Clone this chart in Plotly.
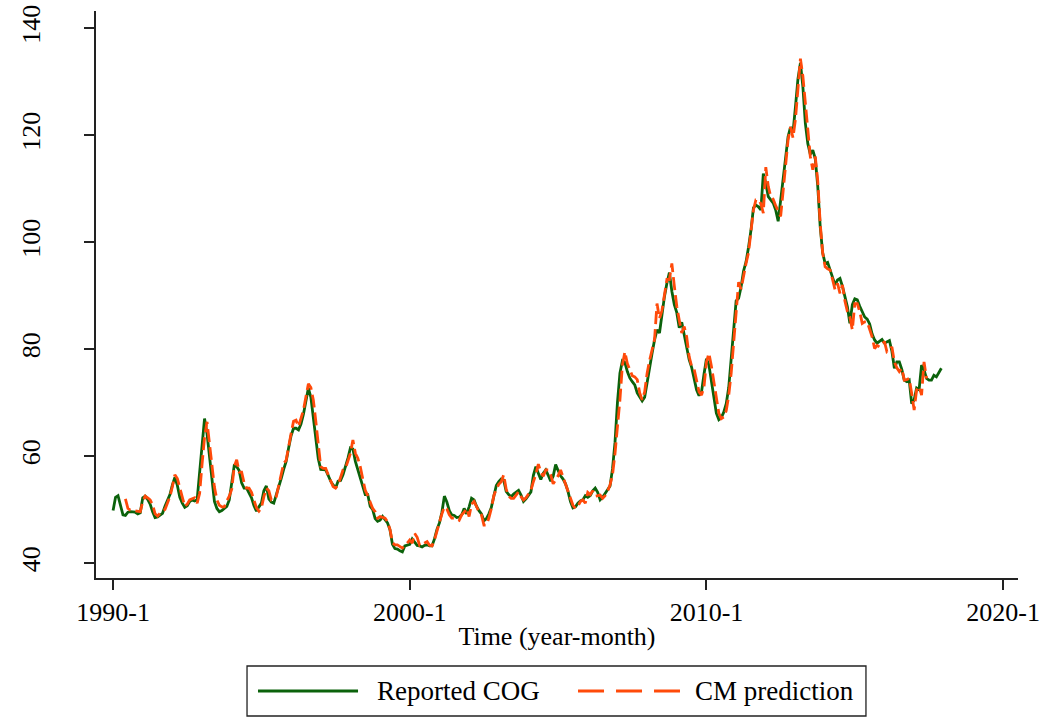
import plotly.graph_objects as go

# Monthly series, first month of the sample is 1990-1
reported_cog = [
    49.8, 52.3, 52.6, 50.5, 49.0, 48.9, 49.5, 49.6, 49.6, 49.5, 49.2, 49.4,   # 1990
    52.2, 52.5, 51.9, 51.0, 49.6, 48.5, 48.6, 49.0, 49.3, 50.6, 51.8, 52.8,   # 1991
    54.6, 56.0, 54.5, 52.3, 51.2, 50.4, 50.7, 51.5, 51.8, 51.6, 51.8, 57.0,   # 1992
    63.0, 67.0, 64.2, 59.5, 55.0, 51.5, 50.2, 49.6, 49.8, 50.2, 50.6, 51.8,   # 1993
    55.0, 58.2, 58.0, 57.3, 55.0, 54.0, 54.0, 53.0, 52.2, 50.7, 49.7, 50.5,   # 1994
    51.2, 53.5, 54.4, 52.0, 51.4, 51.2, 52.6, 54.0, 55.8, 57.5, 59.0, 61.5,   # 1995
    63.8, 65.2, 65.2, 64.9, 66.0, 67.8, 70.5, 72.7, 71.0, 67.3, 63.8, 59.5,   # 1996
    57.5, 57.5, 57.4, 56.4, 55.3, 54.6, 54.0, 55.3, 55.4, 56.5, 58.0, 59.6,   # 1997
    61.5, 61.3, 59.0, 57.4, 55.8, 54.2, 52.8, 52.8, 50.6, 50.0, 48.3, 47.8,   # 1998
    48.0, 48.7, 48.1, 47.5, 46.2, 43.5, 42.7, 42.6, 42.3, 42.1, 43.2, 43.4,   # 1999
    43.5, 44.5, 43.8, 43.3, 43.2, 43.0, 43.3, 43.4, 43.2, 43.2, 44.5, 46.3,   # 2000
    47.5, 49.5, 52.5, 51.4, 49.8, 49.0, 48.9, 48.5, 48.6, 49.0, 50.2, 49.2,   # 2001
    50.5, 52.1, 51.8, 50.6, 49.8, 49.2, 47.9, 48.3, 49.2, 50.4, 52.5, 54.5,   # 2002
    55.2, 55.7, 55.5, 53.4, 52.8, 52.4, 52.9, 53.3, 53.6, 52.7, 51.5, 52.0,   # 2003
    52.6, 53.3, 56.4, 58.0, 56.8, 55.6, 56.8, 57.4, 56.4, 55.3, 56.2, 58.4,   # 2004
    57.3, 56.3, 55.7, 54.8, 53.4, 51.5, 50.3, 50.5, 51.2, 51.6, 51.8, 52.6,   # 2005
    52.3, 52.6, 53.5, 54.0, 53.2, 51.8, 52.3, 53.0, 53.6, 54.4, 57.6, 62.5,   # 2006
    70.0, 75.5, 77.8, 77.5, 75.8, 74.6, 73.9, 73.3, 71.8, 71.0, 70.3, 71.0,   # 2007
    74.0, 77.0, 79.2, 81.7, 83.6, 83.0, 86.5, 89.8, 92.3, 94.3, 90.8, 88.3,   # 2008
    86.8, 84.0, 85.0, 82.5, 80.0, 78.0, 76.6, 74.2, 72.4, 71.3, 72.0, 75.3,   # 2009
    78.2, 77.0, 73.8, 70.6, 68.0, 66.8, 67.2, 68.2, 69.8, 72.8, 77.9, 84.0,   # 2010
    89.0, 89.5, 91.6, 94.6, 96.3, 99.0, 102.2, 106.4, 106.9, 106.6, 106.0, 112.8,  # 2011
    111.0, 108.5, 107.9, 107.3, 106.0, 103.9, 107.8, 111.5, 115.3, 119.7, 121.5, 120.5,  # 2012
    125.3, 130.5, 133.5, 129.0, 122.2, 118.4, 116.4, 117.2, 115.6, 110.5, 102.9, 98.0,  # 2013
    96.0, 96.2, 94.8, 93.5, 92.0, 92.9, 93.2, 91.7, 89.8, 87.9, 84.8, 88.3,   # 2014
    89.4, 89.2, 88.0, 87.0, 86.0, 85.6, 84.7, 82.8, 81.7, 81.1, 81.4, 81.8,   # 2015
    81.1, 81.3, 81.6, 79.6, 76.4, 77.6, 77.6, 76.2, 74.2, 73.9, 74.2, 69.8,   # 2016
    70.5, 72.7, 72.4, 77.0, 76.1, 74.5, 74.2, 74.2, 75.1, 74.8, 75.5, 76.4,   # 2017
]

# Model prediction, available from 1990-6 to 2017-6
cm_first_month = 5
cm_prediction = [
    52.0, 50.2, 49.9, 49.8, 49.8, 49.7, 49.6,                                 # 1990
    51.5, 52.5, 52.2, 51.8, 50.9, 49.2, 48.8, 49.4, 49.8, 50.0, 51.2, 52.4,   # 1991
    54.3, 56.5, 55.8, 54.0, 52.0, 50.6, 51.0, 51.8, 52.0, 52.2, 51.2, 53.0,   # 1992
    58.5, 63.5, 66.4, 62.4, 58.2, 54.2, 51.8, 50.8, 50.5, 50.5, 51.6, 52.5,   # 1993
    53.8, 58.0, 59.3, 57.0, 57.0, 55.0, 54.0, 54.0, 53.2, 51.5, 50.3, 49.7,   # 1994
    50.3, 52.4, 54.0, 53.5, 51.8, 52.0, 52.4, 54.5, 56.8, 58.6, 59.2, 62.0,   # 1995
    64.2, 66.5, 66.7, 65.5, 67.0, 68.6, 71.1, 73.5, 72.8, 70.5, 66.5, 62.0,   # 1996
    58.0, 57.7, 57.7, 56.5, 55.4, 54.3, 54.0, 54.6, 56.0, 57.4, 57.7, 59.0,   # 1997
    60.5, 63.0, 60.5, 59.6, 58.0, 55.7, 53.6, 52.6, 51.4, 50.2, 49.6, 48.4,   # 1998
    48.7, 48.6, 48.4, 47.7, 46.3, 43.8, 43.4, 43.4, 43.1, 42.8, 43.2, 43.8,   # 1999
    44.3, 43.7, 45.5, 44.8, 43.3, 43.5, 43.7, 44.0, 43.3, 43.2, 44.3, 46.0,   # 2000
    47.8, 49.2, 50.5, 50.1, 49.0, 48.4, 48.4, 48.3, 48.0, 49.0, 49.5, 50.2,   # 2001
    48.7, 51.0, 51.5, 50.4, 49.6, 49.0, 47.1, 47.1, 48.4, 50.2, 52.6, 53.8,   # 2002
    54.7, 55.2, 56.5, 53.8, 52.5, 52.1, 52.1, 52.7, 53.3, 52.4, 51.8, 52.2,   # 2003
    52.8, 53.6, 55.2, 56.6, 58.5, 57.0, 56.2, 57.4, 57.4, 56.5, 54.8, 55.5,   # 2004
    56.3, 57.4, 56.0, 54.6, 53.5, 51.8, 50.8, 50.2, 50.6, 51.5, 51.8, 51.2,   # 2005
    53.2, 52.8, 53.5, 52.5, 52.6, 52.7, 52.1, 52.6, 53.4, 54.6, 56.5, 60.4,   # 2006
    65.5, 70.5, 77.0, 79.5, 77.3, 76.0, 75.0, 74.8, 74.3, 71.8, 70.5, 72.0,   # 2007
    75.5, 77.9, 80.2, 81.8, 88.5, 85.7, 87.2, 90.6, 93.0, 93.0, 96.0, 91.8,   # 2008
    88.0, 85.4, 83.0, 84.2, 82.3, 78.6, 76.8, 76.3, 74.0, 72.0, 71.4, 72.9,   # 2009
    77.6, 79.2, 76.8, 73.6, 70.5, 68.0, 67.0, 67.3, 68.5, 71.3, 75.5, 81.0,   # 2010
    87.0, 92.5, 91.2, 94.0, 96.0, 98.0, 101.5, 106.0, 107.9, 107.9, 107.2, 105.4,  # 2011
    114.0, 110.4, 108.5, 108.0, 106.8, 105.8, 104.8, 109.5, 114.1, 119.1, 121.5, 119.5,  # 2012
    123.0, 129.0, 134.3, 131.0, 126.0, 121.0, 116.0, 113.5, 116.0, 111.5, 103.5, 98.0,  # 2013
    95.4, 95.0, 94.8, 93.0, 91.1, 92.3, 90.4, 92.0, 89.0, 87.0, 86.0, 83.6,   # 2014
    88.5, 88.5, 87.0, 84.8, 85.1, 85.1, 83.6, 82.3, 80.1, 80.7, 80.4, 81.0,   # 2015
    81.4, 79.5, 79.8, 80.4, 77.6, 76.5, 75.8, 76.4, 74.2, 74.3, 74.5, 71.7,   # 2016
    68.6, 72.4, 73.0, 71.4, 77.6, 74.5,                                       # 2017
]

series_names = ["Reported COG", "CM prediction"]
x_tick_months = [0, 120, 240, 360]
x_tick_labels = ["1990-1", "2000-1", "2010-1", "2020-1"]
y_tick_values = [40, 60, 80, 100, 120, 140]

START_YEAR = 1990
GREEN = "#0b620b"
ORANGE = "#ff4a0a"
FONT = "Liberation Serif"


def month_label(m):
    return f"{START_YEAR + m // 12}-{m % 12 + 1}"


cog_months = list(range(len(reported_cog)))
cm_months = list(range(cm_first_month, cm_first_month + len(cm_prediction)))

fig = go.Figure()
fig.add_trace(go.Scatter(
    x=cog_months, y=reported_cog, mode="lines", name=series_names[0],
    line=dict(color=GREEN, width=2.8),
    text=[month_label(m) for m in cog_months],
    hovertemplate="%{text}: %{y:.1f}<extra>" + series_names[0] + "</extra>",
    showlegend=False,
))
fig.add_trace(go.Scatter(
    x=cm_months, y=cm_prediction, mode="lines", name=series_names[1],
    line=dict(color=ORANGE, width=2.8, dash="13px,5px"),
    text=[month_label(m) for m in cm_months],
    hovertemplate="%{text}: %{y:.1f}<extra>" + series_names[1] + "</extra>",
    showlegend=False,
))

axis_common = dict(
    showline=True, linecolor="#222222", linewidth=1.5,
    ticks="outside", ticklen=10, tickwidth=1.5, tickcolor="#222222",
    showgrid=False, zeroline=False, automargin=False,
)

fig.update_layout(
    width=1047, height=717, autosize=False,
    margin=dict(l=96, r=29, t=11, b=139),
    paper_bgcolor="white", plot_bgcolor="white",
    font=dict(family=FONT, color="black"),
    xaxis=dict(
        range=[-6.9, 366.0],
        tickmode="array", tickvals=x_tick_months, ticktext=x_tick_labels,
        tickfont=dict(family=FONT, size=26, color="black"),
        title=dict(text="Time (year-month)", standoff=1,
                   font=dict(family=FONT, size=26, color="black")),
        **axis_common,
    ),
    yaxis=dict(
        range=[37.2, 143.2],
        tickmode="array", tickvals=y_tick_values,
        tickangle=-90, ticklabelstandoff=34,
        tickfont=dict(family=FONT, size=26, color="black"),
        **axis_common,
    ),
    showlegend=False,
)

# Legend box below the plot
legend_y = -0.1993
fig.add_shape(type="rect", xref="paper", yref="paper",
              x0=0.1638, x1=0.8351, y0=-0.2434, y1=-0.1552,
              line=dict(color="#222222", width=1.3), fillcolor="white")
fig.add_shape(type="line", xref="paper", yref="paper",
              x0=0.1757, x1=0.2842, y0=legend_y, y1=legend_y,
              line=dict(color=GREEN, width=2.8))
fig.add_shape(type="line", xref="paper", yref="paper",
              x0=0.5228, x1=0.6334, y0=legend_y, y1=legend_y,
              line=dict(color=ORANGE, width=2.8, dash="26px,12px"))
for x_left, label in [(0.3026, series_names[0]), (0.6475, series_names[1])]:
    fig.add_annotation(x=x_left, y=legend_y, xref="paper", yref="paper",
                       text=label, showarrow=False, xanchor="left",
                       yanchor="middle",
                       font=dict(family=FONT, size=27, color="black"))

fig.write_html("out.html")
